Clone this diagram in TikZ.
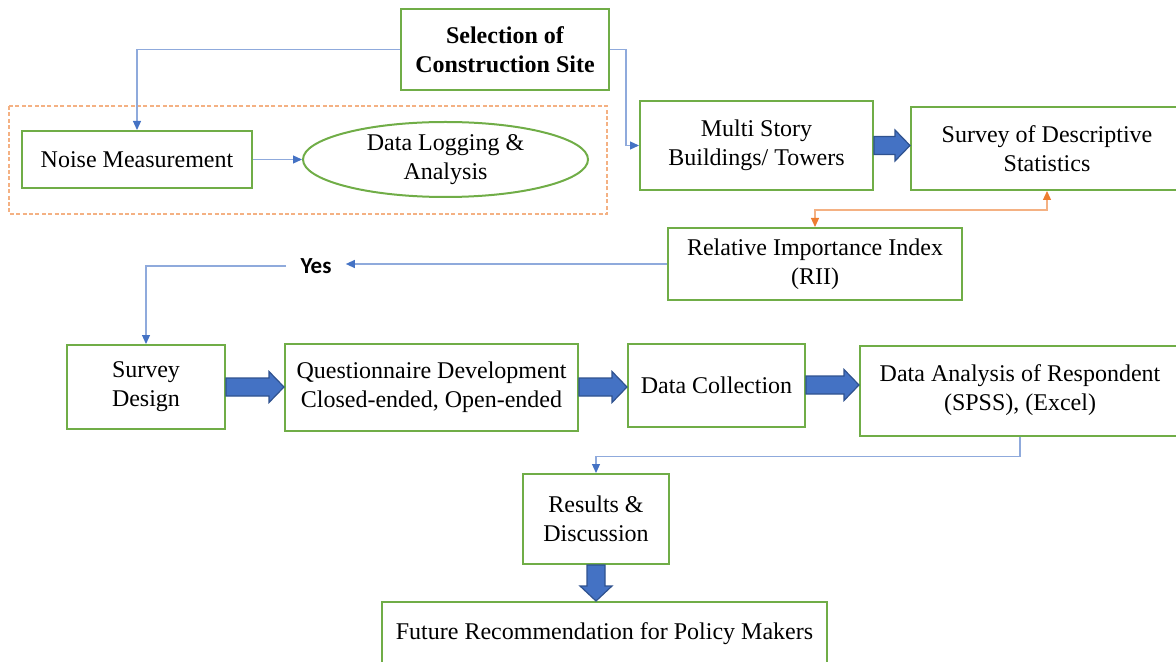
\documentclass[tikz,border=0pt]{standalone}
\usepackage{fontspec}
\setmainfont{Liberation Serif}
\newfontfamily\calibri{Carlito}
\usepackage{tikz}
\usetikzlibrary{arrows.meta,positioning,shapes.geometric,calc}

\definecolor{boxgreen}{HTML}{70AD47}
\definecolor{linkblue}{HTML}{8FAADC}
\definecolor{tipblue}{HTML}{4472C4}
\definecolor{fatblue}{HTML}{4472C4}
\definecolor{fatedge}{HTML}{2F528F}
\definecolor{linkorange}{HTML}{F4B183}
\definecolor{tiporange}{HTML}{ED7D31}

% thick block arrows from one box to the next
\newcommand{\fatright}[2]{%
  \filldraw[fat] let \p1=(#1.east), \p2=(#2.west) in
    (\x1,\y1+4.5pt) -- (\x2-7.5pt,\y1+4.5pt) -- (\x2-7.5pt,\y1+7.75pt)
    -- (\x2,\y1) -- (\x2-7.5pt,\y1-7.75pt) -- (\x2-7.5pt,\y1-4.5pt)
    -- (\x1,\y1-4.5pt) -- cycle;}
\newcommand{\fatdown}[2]{%
  \filldraw[fat] let \p1=(#1.south), \p2=(#2.north) in
    (\x1-4.5pt,\y1) -- (\x1-4.5pt,\y2+7.5pt) -- (\x1-8pt,\y2+7.5pt)
    -- (\x1,\y2) -- (\x1+8pt,\y2+7.5pt) -- (\x1+4.5pt,\y2+7.5pt)
    -- (\x1+4.5pt,\y1) -- cycle;}

\begin{document}
\begin{tikzpicture}[
  x=0.5pt, y=-0.5pt,
  every node/.style={font=\fontsize{12}{14.5}\selectfont},
  box/.style={draw=boxgreen, line width=1pt, align=center, inner sep=1pt},
  oval/.style={draw=boxgreen, line width=1pt, align=center, ellipse, inner sep=0pt},
  link/.style={draw=linkblue, line width=0.6pt,
    -{Triangle[length=4.5pt, width=4pt, color=tipblue]}},
  twoway/.style={draw=linkorange, line width=0.6pt,
    {Triangle[length=4.5pt, width=4pt, color=tiporange]}-{Triangle[length=4.5pt, width=4pt, color=tiporange]}},
  group/.style={draw=linkorange, line width=0.6pt, dash pattern=on 2pt off 1.2pt},
  fat/.style={fill=fatblue, draw=fatedge, line width=0.6pt},
  yeslabel/.style={font=\calibri\bfseries\fontsize{11.5}{13}\selectfont, inner xsep=7pt}
]
  \useasboundingbox (0,0) rectangle (1176,662);

  \node[box, font=\bfseries\fontsize{12}{14.5}\selectfont, minimum width=104pt,
    minimum height=40.5pt] (site) at (505,49.5) {Selection of\\Construction Site};
  \draw[group] (9,106) rectangle (607,214);
  \node[box, minimum width=115pt, minimum height=28.5pt] (noise) at (137,159.5) {Noise Measurement};
  \node[oval, minimum width=142.5pt, minimum height=37.5pt, right=24.5pt of noise] (logging) {Data Logging \&\\Analysis};
  \node[box, minimum width=116.5pt, minimum height=44.5pt] (towers) at (756.5,145.5) {Multi Story\\Buildings/ Towers};
  \node[box, minimum width=136pt, minimum height=41.5pt] (stats) at (1047,148.5) {Survey of Descriptive\\Statistics};
  \node[box, minimum width=147pt, minimum height=36pt] (rii) at (815,264) {Relative Importance Index\\(RII)};
  \node[yeslabel] (yes) at (316,266) {Yes};
  \node[box, minimum width=79pt, minimum height=42pt] (design) at (146,387) {Survey\\Design};
  \node[box, minimum width=146.5pt, minimum height=43.5pt, right=29pt of design] (quest) {Questionnaire Development\\Closed-ended, Open-ended};
  \node[box, minimum width=88.5pt, minimum height=41.5pt, right=24pt of quest, yshift=1pt] (collect) {Data Collection};
  \node[box, minimum width=160pt, minimum height=45pt, right=26.5pt of collect, yshift=-2.75pt] (analysis) {Data Analysis of Respondent\\(SPSS), (Excel)};
  \node[box, minimum width=73pt, minimum height=45pt] (results) at (596,519) {Results \&\\Discussion};
  \node[box, minimum width=222.5pt, minimum height=32pt] (future) at (604.5,634) {Future Recommendation for Policy Makers};

  \draw[link] (site.west) -| (noise.north);
  \draw[link] (site.east) -- ++(8pt,0) |- (towers.west);
  \draw[link] (noise) -- (logging);
  \draw[twoway] (stats.south) -- ++(0,-9.5pt) -| (rii.north);
  \draw[link] (rii.west) -- (rii.west -| yes.east);
  \draw[link] (yes.west) -| (design.north);
  \draw[link] (analysis.south) -- ++(0,-10pt) -| (results.north);

  \fatright{towers}{stats}
  \fatright{design}{quest}
  \fatright{quest}{collect}
  \fatright{collect}{analysis}
  \fatdown{results}{future}
\end{tikzpicture}
\end{document}
